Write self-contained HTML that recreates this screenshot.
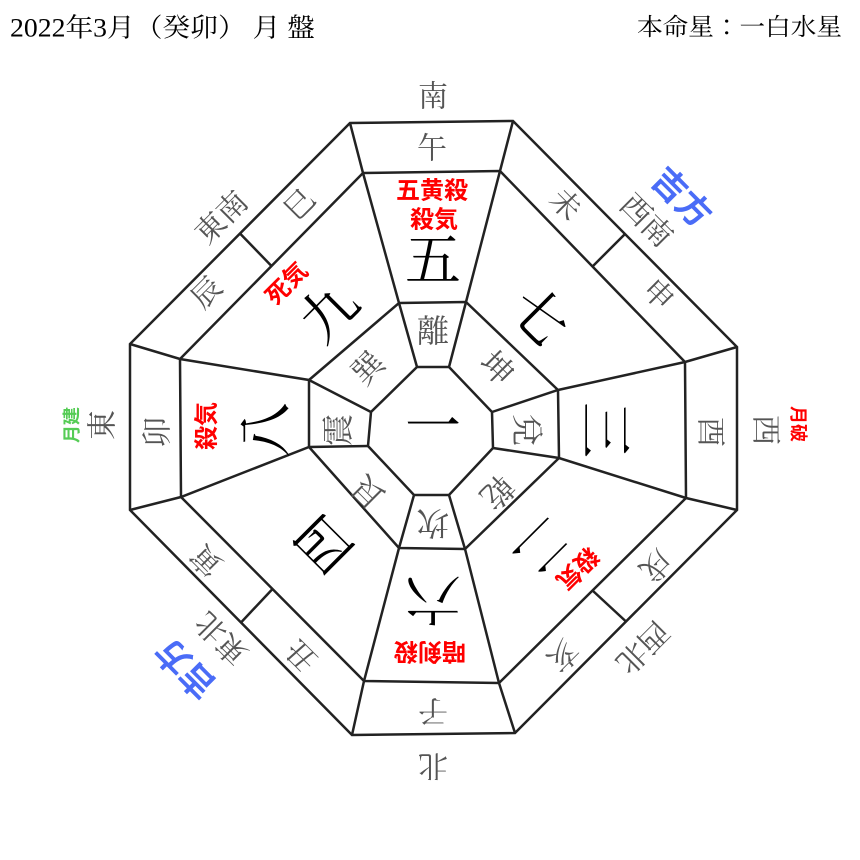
<!DOCTYPE html>
<html><head><meta charset="utf-8"><style>
html,body{margin:0;padding:0;background:#fff;}
svg{display:block;}
.g{font-family:"Liberation Serif","Noto Serif CJK JP",serif;fill:#555;font-size:30px;}
.t{font-family:"Liberation Serif","Noto Serif CJK JP",serif;fill:#555;font-size:32px;}
.n{font-family:"Liberation Serif","Noto Serif CJK JP",serif;fill:#000;font-size:56px;}
.r{font-family:"Liberation Sans","Noto Sans CJK JP",sans-serif;fill:#f00;font-weight:bold;font-size:24px;}
.b{font-family:"Liberation Sans","Noto Sans CJK JP",sans-serif;fill:#4a6cf7;font-weight:bold;font-size:34px;}
.gr{font-family:"Liberation Sans","Noto Sans CJK JP",sans-serif;fill:#5c5;font-weight:bold;font-size:18px;}
.h{font-family:"Liberation Serif","Noto Serif CJK JP",serif;fill:#000;font-size:26px;}
text{text-anchor:middle;dominant-baseline:central;}
</style></head><body>
<svg width="860" height="860" viewBox="0 0 860 860" xmlns="http://www.w3.org/2000/svg">
<g fill="none" stroke="#222" stroke-width="2.5" stroke-linejoin="miter">
<polygon points="350,123 513,121 737,347 737,510 515,733 352,735 130,510 130,344"/>
<polygon points="363,173 500,171 685,362 686,498 499,683 364,681 181,497 180,359"/>
<polygon points="399,303 466,302 558,390 559,458 465,549 399,548 309,447 309,380"/>
<polygon points="417,367 449,367 492,412 493,448 449,495 414,495 368,446 371,412"/>
<polyline points="350,123 363,173 399,303 417,367"/>
<polyline points="513,121 500,171 466,302 449,367"/>
<polyline points="737,347 685,362 558,390 492,412"/>
<polyline points="737,510 686,498 559,458 493,448"/>
<polyline points="515,733 499,683 465,549 449,495"/>
<polyline points="352,735 364,681 399,548 414,495"/>
<polyline points="130,510 181,497 309,447 368,446"/>
<polyline points="130,344 180,359 309,380 371,412"/>
<line x1="240" y1="233.5" x2="271.5" y2="266"/>
<line x1="625" y1="234" x2="592.5" y2="266.5"/>
<line x1="626" y1="621.5" x2="592.5" y2="590.5"/>
<line x1="241" y1="622.5" x2="272.5" y2="589"/>
</g>
<text class="h" x="10" y="28" style="text-anchor:start" textLength="305" lengthAdjust="spacingAndGlyphs">2022年3月（癸卯） 月 盤</text>
<text class="h" x="842" y="28" style="text-anchor:end;font-size:24px" textLength="205" lengthAdjust="spacingAndGlyphs">本命星：一白水星</text>
<text class="g" x="433" y="97">南</text>
<text class="g" transform="translate(646,221) rotate(45)">西南</text>
<text class="g" transform="translate(765,430) rotate(90)">西</text>
<text class="g" transform="translate(642,647) rotate(135)">西北</text>
<text class="g" transform="translate(433,765) rotate(180)">北</text>
<text class="g" transform="translate(222,638) rotate(225)">東北</text>
<text class="g" transform="translate(103,425) rotate(270)">東</text>
<text class="g" transform="translate(222,218) rotate(315)">東南</text>
<text class="g" x="432" y="149">午</text>
<text class="g" transform="translate(565,205) rotate(45)">未</text>
<text class="g" transform="translate(658,295) rotate(45)">申</text>
<text class="g" transform="translate(710,432) rotate(90)">酉</text>
<text class="g" transform="translate(655,565) rotate(135)">戌</text>
<text class="g" transform="translate(562,655) rotate(135)">亥</text>
<text class="g" transform="translate(433,710) rotate(180)">子</text>
<text class="g" transform="translate(302,655) rotate(225)">丑</text>
<text class="g" transform="translate(207,560) rotate(225)">寅</text>
<text class="g" transform="translate(158,432) rotate(270)">卯</text>
<text class="g" transform="translate(207,293) rotate(315)">辰</text>
<text class="g" transform="translate(300,205) rotate(315)">巳</text>
<text class="n" x="433" y="262">五</text>
<text class="n" transform="translate(538,318) rotate(45)">七</text>
<text class="n" transform="translate(603,430) rotate(90)">三</text>
<text class="n" transform="translate(540,545) rotate(135)">二</text>
<text class="n" transform="translate(433,597) rotate(180)">六</text>
<text class="n" transform="translate(325,543) rotate(225)">四</text>
<text class="n" transform="translate(268,430) rotate(270)">八</text>
<text class="n" transform="translate(330,313) rotate(315)">九</text>
<text class="n" x="433" y="428">一</text>
<text class="t" x="433" y="331">離</text>
<text class="t" transform="translate(497,368) rotate(45)">坤</text>
<text class="t" transform="translate(527,430) rotate(90)">兌</text>
<text class="t" transform="translate(497,492) rotate(135)">乾</text>
<text class="t" transform="translate(433,523) rotate(180)">坎</text>
<text class="t" transform="translate(368,492) rotate(225)">艮</text>
<text class="t" transform="translate(338,430) rotate(270)">震</text>
<text class="t" transform="translate(368,368) rotate(315)">巽</text>
<text class="r" x="432" y="191">五黄殺</text>
<text class="r" x="434" y="220">殺気</text>
<text class="r" transform="translate(287,284) rotate(315)">死気</text>
<text class="r" transform="translate(207,426) rotate(270)">殺気</text>
<text class="r" transform="translate(430,651) rotate(180)">暗剣殺</text>
<text class="r" transform="translate(577,568) rotate(135)">殺気</text>
<text class="r" style="font-size:18px" transform="translate(798,424) rotate(90)">月破</text>
<text class="gr" transform="translate(72,425) rotate(270)">月建</text>
<text class="b" transform="translate(681,198) rotate(45)">吉方</text>
<text class="b" transform="translate(186,668) rotate(225)">吉方</text>
</svg>
</body></html>
